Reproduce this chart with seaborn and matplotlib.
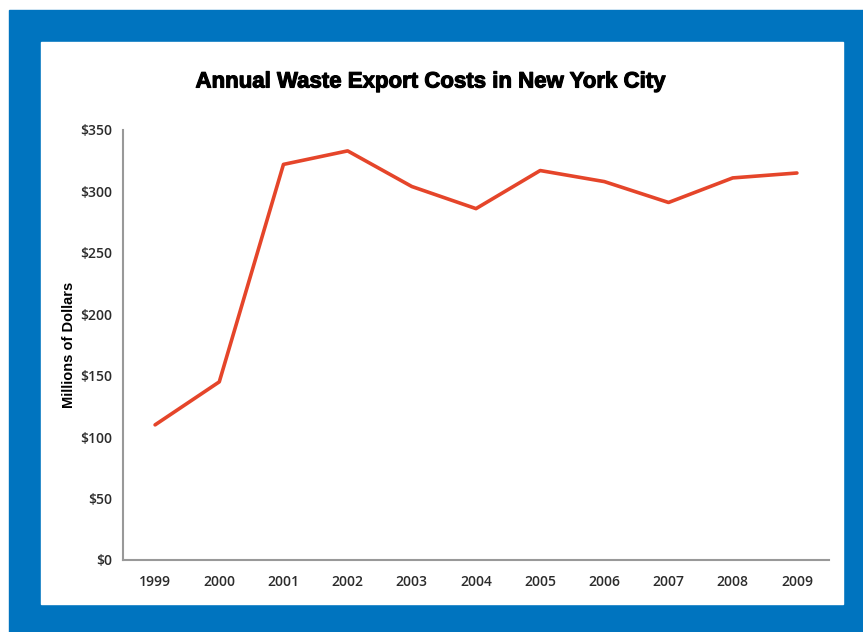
import numpy as np
import pandas as pd
import seaborn as sns
import matplotlib.pyplot as plt
import matplotlib.patheffects as pe
from matplotlib.patches import Rectangle
from matplotlib.ticker import FixedLocator

years = ['1999', '2000', '2001', '2002', '2003', '2004', '2005', '2006', '2007', '2008', '2009']
costs = [110, 145, 322, 333, 304, 286, 317, 308, 291, 311, 315]
y_ticks = [0, 50, 100, 150, 200, 250, 300, 350]

df = pd.DataFrame({'year': years, 'cost': costs})
df['pos'] = np.arange(len(years))

sns.set_style('white')
plt.rcParams['font.family'] = ['Open Sans', 'DejaVu Sans']

fig = plt.figure(figsize=(8.63, 6.32), dpi=100)
W, H = 863, 632
# blue frame and white panel behind the axes
fig.patches.append(Rectangle((9 / W, 0), 1 - 9 / W, 1 - 10 / H, transform=fig.transFigure,
                             color='#0074bf', zorder=-2))
fig.patches.append(Rectangle((41 / W, 1 - 604 / H), (843 - 41) / W, (604 - 42) / H,
                             transform=fig.transFigure, color='white', zorder=-1))

ax = fig.add_axes([123 / W, 1 - 560 / H, (829 - 123) / W, (560 - 130) / H])
ax.set_zorder(2)
ax.set_facecolor('none')
sns.lineplot(data=df, x='pos', y='cost', color='#e5452a', linewidth=2.6, ax=ax)

ax.set_xlim(-0.5, len(years) - 0.5)
ax.set_ylim(0, 350)
ax.set_xticks(df['pos'])
ax.set_xticklabels(years)
ax.xaxis.set_minor_locator(FixedLocator(np.arange(-0.5, len(years), 1)))
ax.tick_params(axis='x', which='major', length=0, pad=11, labelsize=10, labelcolor='#2b2b2b')
ax.tick_params(axis='x', which='minor', length=4, width=1, color='#999999', direction='out')
ax.set_yticks(y_ticks)
ax.set_yticklabels(['$' + str(v) for v in y_ticks])
ax.tick_params(axis='y', length=4, width=1, color='#999999', direction='out',
               labelsize=10, labelcolor='#2b2b2b', pad=4)
for lbl in ax.get_xticklabels() + ax.get_yticklabels():
    lbl.set_fontweight('semibold')

sns.despine(ax=ax)
for s in ['left', 'bottom']:
    ax.spines[s].set_color('#999999')
    ax.spines[s].set_linewidth(1.5)

ax.set_xlabel('')
ax.set_ylabel('Millions of Dollars', fontsize=10.5, fontweight='bold', color='black',
              family=['Liberation Sans', 'DejaVu Sans'], labelpad=3)
fig.text(430 / W, 1 - 82 / H, 'Annual Waste Export Costs in New York City', ha='center', va='center',
         fontsize=16, fontweight='bold', color='black', family=['Liberation Sans', 'DejaVu Sans'],
         path_effects=[pe.withStroke(linewidth=0.8, foreground='black')])

fig.savefig('out.png', dpi=100)
